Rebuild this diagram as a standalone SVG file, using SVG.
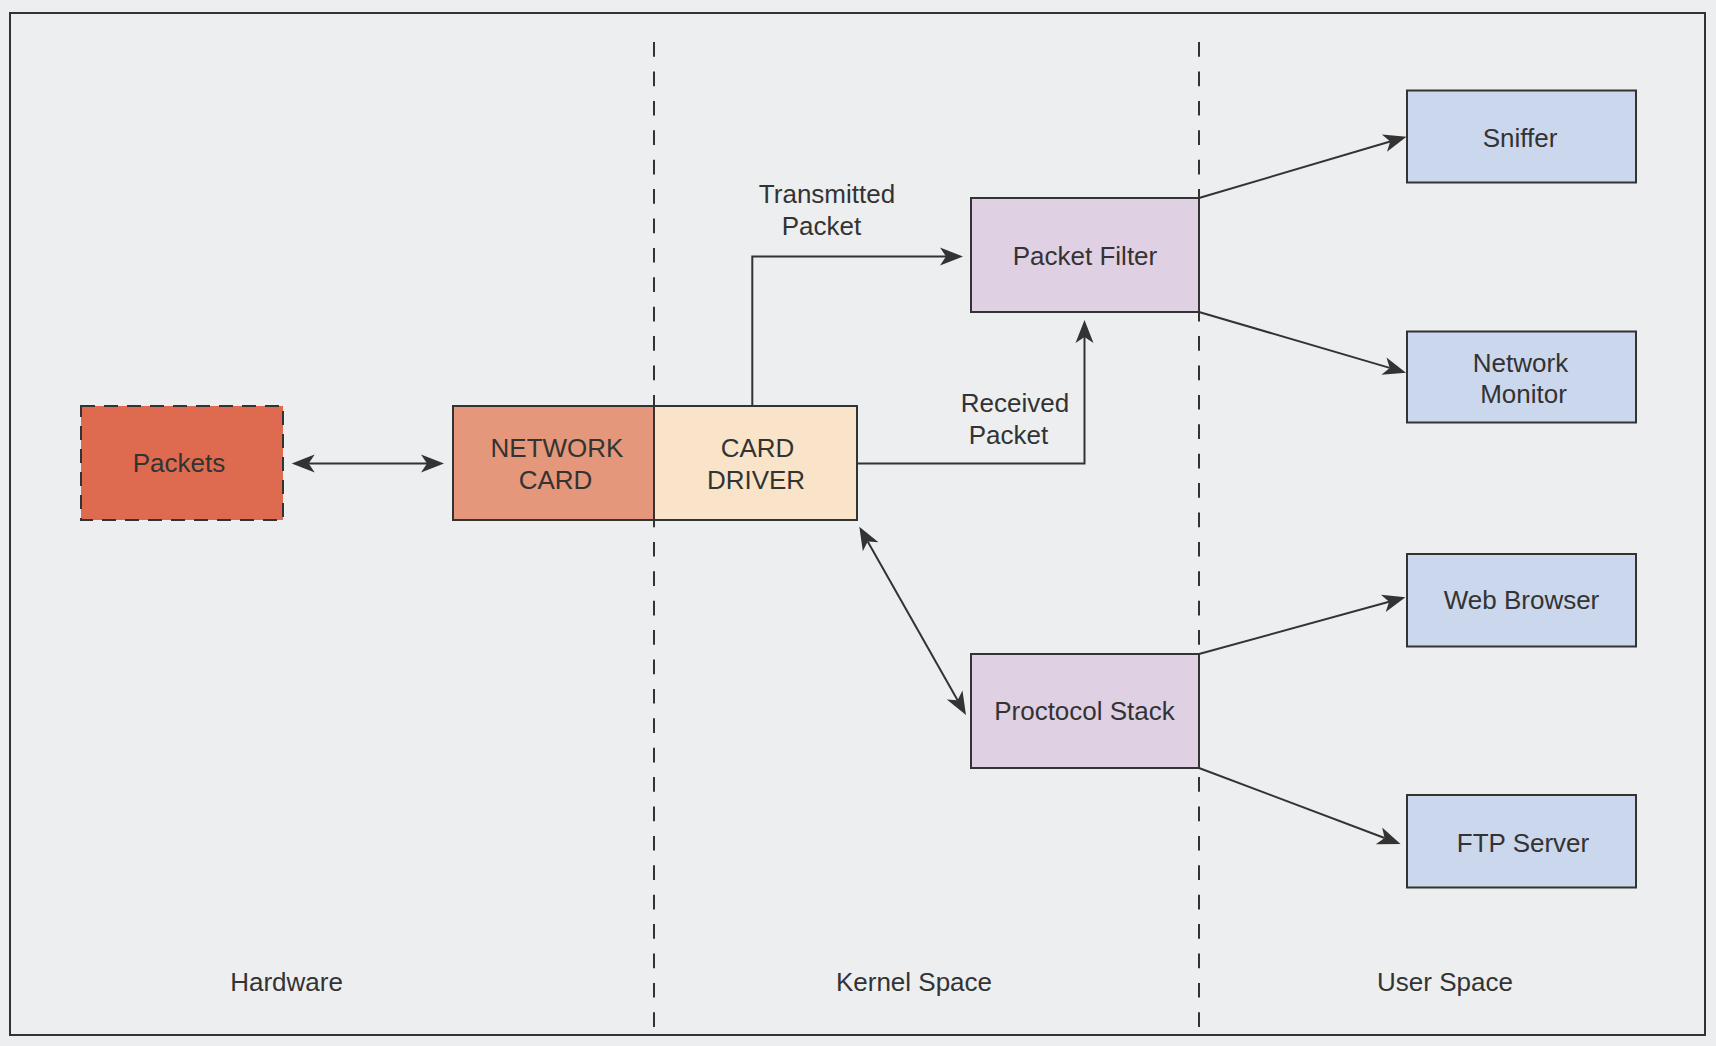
<svg xmlns="http://www.w3.org/2000/svg" width="1716" height="1046" viewBox="0 0 1716 1046">
<style>
  text { font-family: "Liberation Sans", Arial, Helvetica, sans-serif; font-size: 26px; fill: #333333; text-anchor: middle; }
  .box { stroke: #333333; stroke-width: 2; }
  .conn { fill: none; stroke: #333333; stroke-width: 2; }
  .sep { fill: none; stroke: #333333; stroke-width: 2; stroke-dasharray: 14.7 14.7; }
  .hw { fill: #DE6A4F; }
  .nc { fill: #E4977A; }
  .cd { fill: #F9E4C9; }
  .kr { fill: #E0D0E3; }
  .us { fill: #CBD7EC; }
</style>
<defs>
  <marker id="arr" markerUnits="userSpaceOnUse" markerWidth="30" markerHeight="24" refX="6" refY="0" orient="auto-start-reverse" overflow="visible">
    <path d="M0,-9 L23,0 L0,9 L6,0 Z" fill="#333333"/>
  </marker>
</defs>
<rect x="0" y="0" width="1716" height="1046" fill="#EDEEF0"/>
<rect x="10" y="13" width="1695" height="1022" fill="#EDEEF0" stroke="#333333" stroke-width="2"/>

<g id="separators">
  <path class="sep" d="M654,1027 V30"/>
  <path class="sep" d="M1199,1027 V30"/>
</g>

<g id="node-packets">
  <rect class="box hw" x="81" y="406" width="202" height="114" stroke-dasharray="14 9"/>
  <text x="179" y="472">Packets</text>
</g>
<g id="node-network-card">
  <rect class="box nc" x="453" y="406" width="201" height="114"/>
  <text x="557" y="457">NETWORK</text>
  <text x="555.5" y="489">CARD</text>
</g>
<g id="node-card-driver">
  <rect class="box cd" x="654" y="406" width="203" height="114"/>
  <text x="757.5" y="457">CARD</text>
  <text x="756" y="489">DRIVER</text>
</g>
<g id="node-packet-filter">
  <rect class="box kr" x="971" y="198" width="228" height="114"/>
  <text x="1085" y="265">Packet Filter</text>
</g>
<g id="node-protocol-stack">
  <rect class="box kr" x="971" y="654" width="228" height="114"/>
  <text x="1084.5" y="720">Proctocol Stack</text>
</g>
<g id="node-sniffer">
  <rect class="box us" x="1407" y="90.5" width="229" height="92"/>
  <text x="1520" y="147">Sniffer</text>
</g>
<g id="node-network-monitor">
  <rect class="box us" x="1407" y="331.5" width="229" height="91"/>
  <text x="1520.5" y="372">Network</text>
  <text x="1523.5" y="403">Monitor</text>
</g>
<g id="node-web-browser">
  <rect class="box us" x="1407" y="554" width="229" height="92.5"/>
  <text x="1521.5" y="609">Web Browser</text>
</g>
<g id="node-ftp-server">
  <rect class="box us" x="1407" y="795" width="229" height="92.5"/>
  <text x="1523" y="852">FTP Server</text>
</g>

<g id="connectors">
  <path class="conn" d="M308.7,463.5 H427" marker-start="url(#arr)" marker-end="url(#arr)"/>
  <path class="conn" d="M752.3,406 V256.5 H946" marker-end="url(#arr)"/>
  <path class="conn" d="M856,463.5 H1084.5 V337" marker-end="url(#arr)"/>
  <path class="conn" d="M867.7,541.5 L957.6,700.2" marker-start="url(#arr)" marker-end="url(#arr)"/>
  <path class="conn" d="M1199,198 L1390.2,141.5" marker-end="url(#arr)"/>
  <path class="conn" d="M1199,312 L1389.7,367.9" marker-end="url(#arr)"/>
  <path class="conn" d="M1199,654 L1389.1,601.8" marker-end="url(#arr)"/>
  <path class="conn" d="M1199,768 L1384.6,838" marker-end="url(#arr)"/>
</g>

<g id="edge-labels">
  <text x="827" y="203">Transmitted</text>
  <text x="821.5" y="235">Packet</text>
  <text x="1015" y="412">Received</text>
  <text x="1008.5" y="444">Packet</text>
</g>

<g id="zone-labels">
  <text x="286.5" y="991">Hardware</text>
  <text x="914" y="991">Kernel Space</text>
  <text x="1445" y="991">User Space</text>
</g>
</svg>
